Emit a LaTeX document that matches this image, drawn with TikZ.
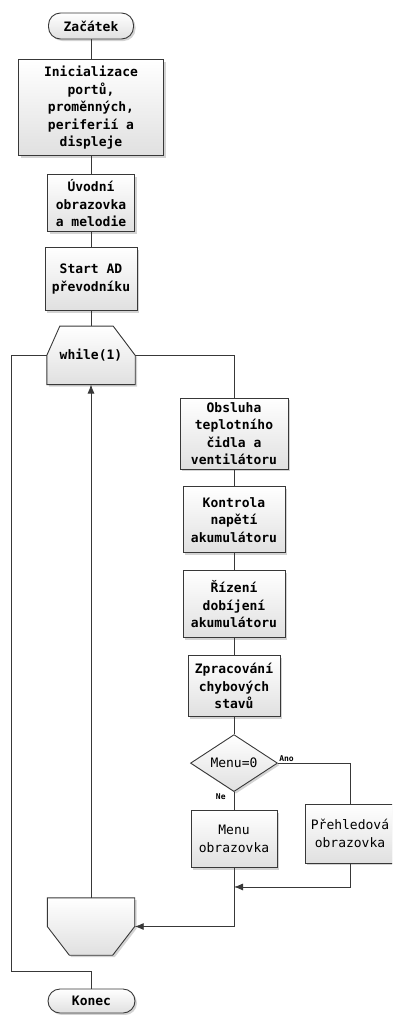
\documentclass[tikz,border=0pt]{standalone}
\usepackage{fontspec}
\setmonofont{DejaVu Sans Mono}
\usetikzlibrary{arrows.meta,positioning,shapes.geometric,calc,backgrounds,shadows}
\definecolor{linegray}{RGB}{56,56,56}
\definecolor{boxgray}{RGB}{224,224,224}

\begin{document}
\begin{tikzpicture}[x=1pt,y=-1pt,
   font=\ttfamily\bfseries\fontsize{13}{17.5}\selectfont,
   shp/.style={draw=linegray,line width=0.9pt,top color=white,bottom color=boxgray,
             drop shadow={shadow xshift=2pt,shadow yshift=-2pt,opacity=0.35}},
   s/.style={shp,align=center,inner sep=0pt},
   t/.style={s,rounded corners=12pt},
   nrm/.style={font=\ttfamily\mdseries\fontsize{13}{17.5}\selectfont},
   lbl/.style={font=\ttfamily\bfseries\fontsize{8}{9}\selectfont,inner sep=1pt},
   ln/.style={draw=linegray,line width=0.8pt},
   arr/.style={ln,-{Latex[length=9pt,width=7pt]}}]
  \useasboundingbox (0,0) rectangle (392,1015);
  \clip (0,0) rectangle (392,1015);

  % main column
  \node[t,minimum width=85pt,minimum height=26pt] (start) at (91,26) {Začátek};
  \node[s,minimum width=145pt,minimum height=96pt,below=20pt of start] (init)
    {Inicializace\\portů,\\proměnných,\\periferií a\\displeje};
  \node[s,minimum width=87pt,minimum height=57pt,below=18pt of init] (intro)
    {Úvodní\\obrazovka\\a melodie};
  \node[s,minimum width=92pt,minimum height=63pt,below=15pt of intro] (adc)
    {Start AD\\převodníku};
  \node[align=center,inner sep=0pt,minimum width=88pt,minimum height=58pt,
        below=15pt of adc] (loop) {while(1)};

  % loop body
  \node[s,minimum width=108pt,minimum height=71pt] (sensor) at (234,433.5)
    {Obsluha\\teplotního\\čidla a\\ventilátoru};
  \node[s,minimum width=102pt,minimum height=66pt,below=17pt of sensor] (volt)
    {Kontrola\\napětí\\akumulátoru};
  \node[s,minimum width=102pt,minimum height=67pt,below=17pt of volt] (charge)
    {Řízení\\dobíjení\\akumulátoru};
  \node[s,minimum width=92pt,minimum height=61pt,below=17pt of charge] (errors)
    {Zpracování\\chybových\\stavů};
  \node[s,nrm,diamond,aspect=1.5,minimum width=87pt,minimum height=57pt,
        below=17pt of errors] (menu) {Menu=0};
  \node[s,nrm,minimum width=86pt,minimum height=57pt,below=18pt of menu] (menuscr)
    {Menu\\obrazovka};
  \node[s,nrm,minimum width=90pt,minimum height=59pt] (overview) at (350,833.5)
    {Přehledová\\obrazovka};
  \coordinate (merge) at ($(menuscr.south)+(0,19)$);

  \node[inner sep=0pt,minimum width=87pt,minimum height=57pt] (endloop) at (91,926.5) {};
  \node[t,minimum width=87pt,minimum height=24pt] (stop) at (91.5,1001) {Konec};

  \begin{scope}[on background layer]
    \draw[shp] (loop.west) -- ($(loop.north west)+(13,0)$) -- ($(loop.north east)+(-22,0)$)
      -- (loop.east) -- (loop.south east) -- (loop.south west) -- cycle;
    \draw[shp] (endloop.north west) -- (endloop.north east) -- (endloop.east)
      -- ($(endloop.south east)+(-22,0)$) -- ($(endloop.south west)+(22,0)$)
      -- (endloop.west) -- cycle;
  \end{scope}

  % connectors
  \draw[ln] (start)--(init);
  \draw[ln] (init)--(intro);
  \draw[ln] (intro)--(adc);
  \draw[ln] (adc)--(loop.north);
  \draw[ln] (loop.east) -| (sensor.north);
  \draw[ln] (sensor)--(volt);
  \draw[ln] (volt)--(charge);
  \draw[ln] (charge)--(errors);
  \draw[ln] (errors)--(menu);
  \draw[ln] (menu.east) -| node[lbl,pos=0,anchor=south west] {Ano} (overview.north);
  \draw[ln] (menu.south) -- node[lbl,pos=0,anchor=north east,xshift=-7pt] {Ne} (menuscr.north);
  \draw[arr] (overview.south) |- (merge);
  \draw[arr] (menuscr.south) |- (endloop.east);
  \draw[arr] (endloop.north) -- (loop.south);
  \draw[ln] (loop.west) -| ($(stop.north)+(-80,-17)$) -- ($(stop.north)+(0,-17)$) -- (stop.north);
\end{tikzpicture}
\end{document}
